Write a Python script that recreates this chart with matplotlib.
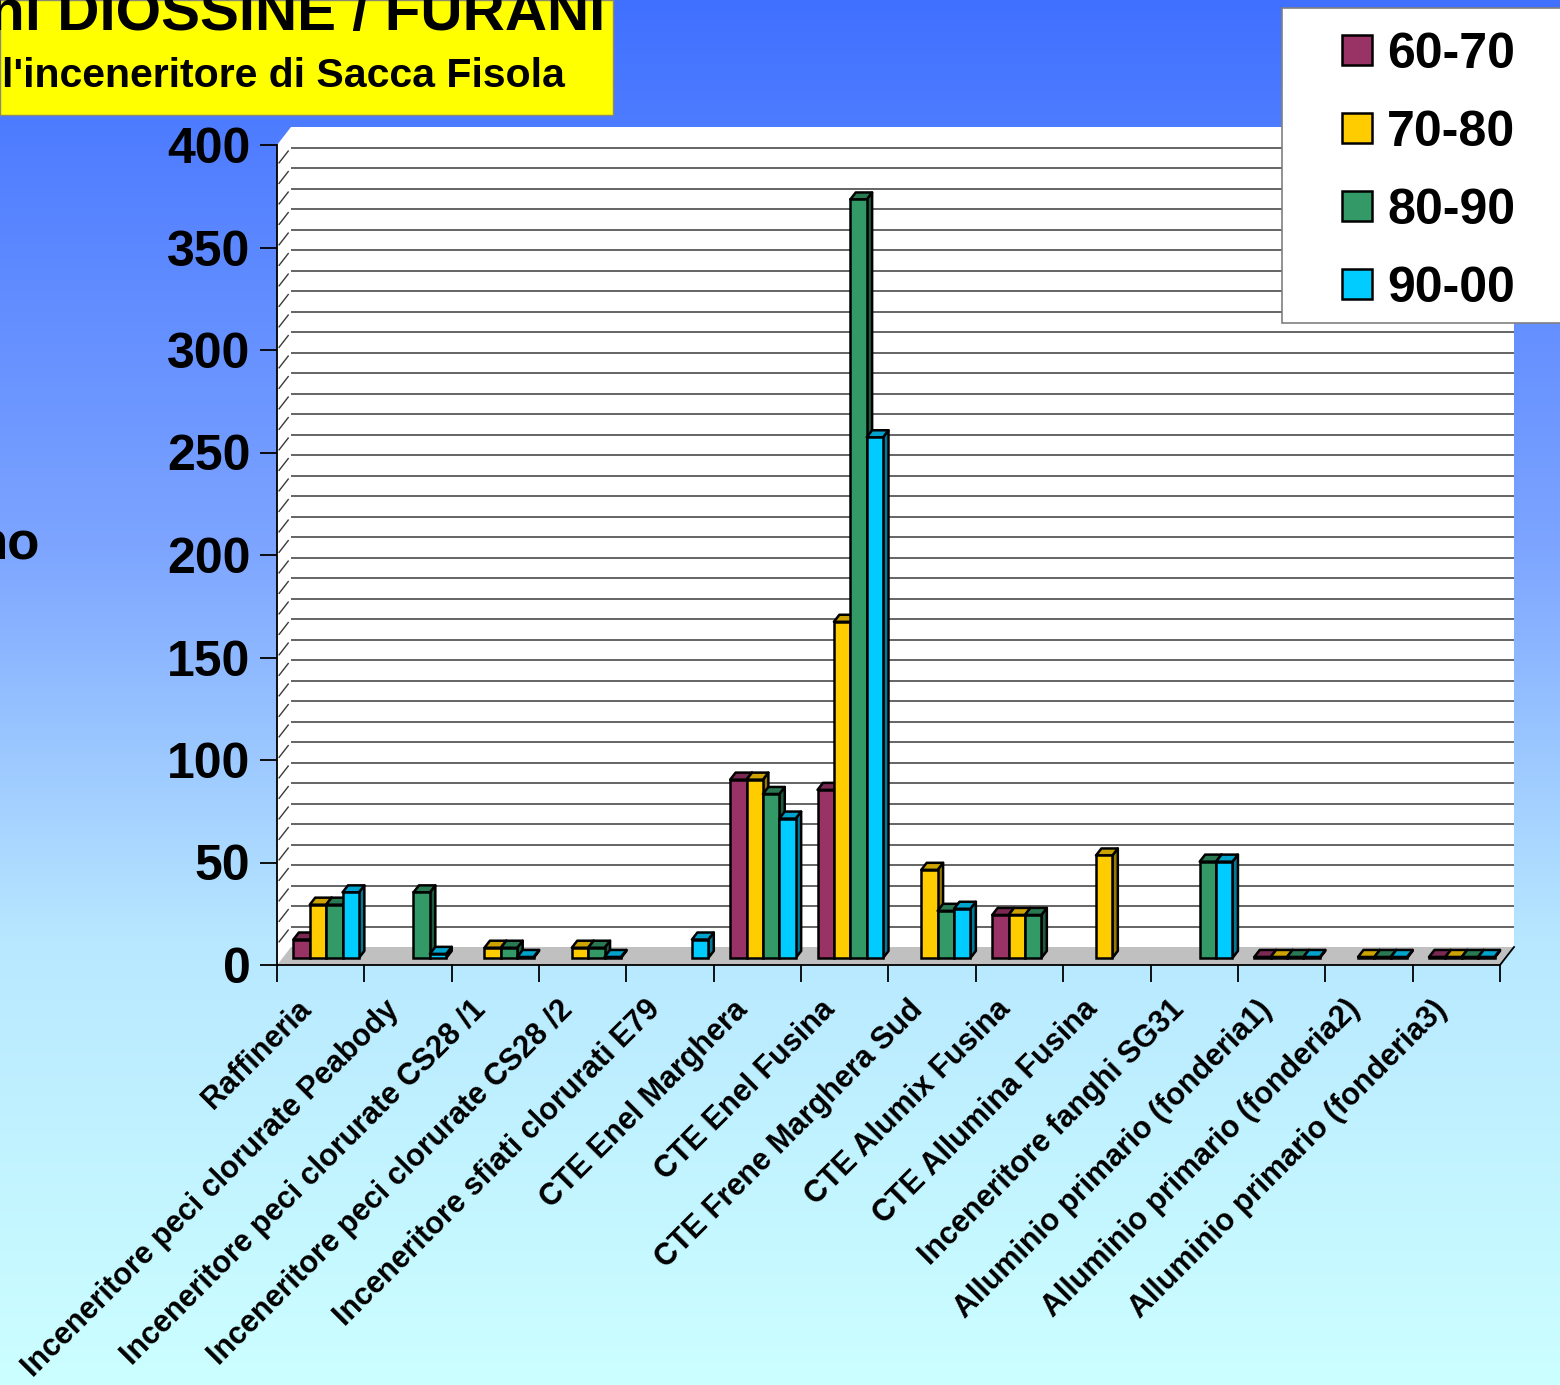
import numpy as np
import matplotlib
matplotlib.use('Agg')
import matplotlib.pyplot as plt
from matplotlib.patches import Polygon, Rectangle

plt.rcParams['font.family'] = ['Liberation Sans', 'DejaVu Sans']

# ---------------- data ----------------
categories = [
    "Raffineria",
    "Inceneritore peci clorurate Peabody",
    "Inceneritore peci clorurate CS28 /1",
    "Inceneritore peci clorurate CS28 /2",
    "Inceneritore sfiati clorurati E79",
    "CTE Enel Marghera",
    "CTE Enel Fusina",
    "CTE Frene Marghera Sud",
    "CTE Alumix Fusina",
    "CTE Allumina Fusina",
    "Inceneritore fanghi SG31",
    "Alluminio primario (fonderia1)",
    "Alluminio primario (fonderia2)",
    "Alluminio primario (fonderia3)",
]
series_names = ["60-70", "70-80", "80-90", "90-00"]
v6070 = [9, None, None, None, None, 87, 82, None, 21, None, None, 0.5, None, 0.5]
v7080 = [26, None, 5, 5, None, 87, 164, 43, 21, 50, None, 0.5, 0.5, 0.5]
v8090 = [26, 32, 5, 5, None, 80, 370, 23, 21, None, 47, 0.5, 0.5, 0.5]
v9000 = [32, 2, 0.5, 0.5, 9, 68, 254, 24, None, None, 47, 0.5, 0.5, 0.5]
yticks = [0, 50, 100, 150, 200, 250, 300, 350, 400]
title_text = "ni DIOSSINE / FURANI"
subtitle_text = "l'inceneritore di Sacca Fisola"
side_text = "no"

front_colors = ['#993366', '#FFCC00', '#339966', '#00CCFF']
top_colors = ['#7A2952', '#CCA300', '#297A52', '#00A3CC']
side_colors = ['#5C1F3D', '#997A00', '#1F5C3D', '#007A99']

W, H = 1560, 1385
fig = plt.figure(figsize=(W / 100, H / 100), dpi=100)

# ---------------- background gradient ----------------
bg = fig.add_axes([0, 0, 1, 1], zorder=-10)
stops = np.array([0.0, 0.39, 0.68, 1.0])
cols = np.array([[64, 112, 255], [124, 164, 255], [184, 232, 255], [204, 255, 255]]) / 255.0
yy = np.linspace(0, 1, H)
grad = np.stack([np.interp(yy, stops, cols[:, c]) for c in range(3)], axis=-1)
bg.imshow(grad[:, None, :], aspect='auto', extent=[0, 1, 0, 1], origin='upper')
bg.axis('off')

# ---------------- plot axes (front plane) ----------------
x0, x1, y0, y1 = 277, 1500, 965, 145
ax = fig.add_axes([x0 / W, 1 - y0 / H, (x1 - x0) / W, (y0 - y1) / H])
n = len(categories)
ymax = yticks[-1]
ax.set_xlim(0, n)
ax.set_ylim(0, ymax)
ax.patch.set_visible(False)
px_per_cat = (x1 - x0) / n
px_per_val = (y0 - y1) / ymax
DX = 14 / px_per_cat
DY = 18 / px_per_val

# floor, back wall, side wall
ax.add_patch(Polygon([(DX, DY), (n + DX, DY), (n + DX, ymax + DY), (DX, ymax + DY)],
                     closed=True, fc='white', ec='none', zorder=0.9, clip_on=False))
ax.add_patch(Polygon([(0, 0), (n, 0), (n + DX, DY), (DX, DY)],
                     closed=True, fc='#C0C0C0', ec='none', zorder=1, clip_on=False))
ax.add_patch(Polygon([(0, 0), (DX, DY), (DX, ymax + DY), (0, ymax)],
                     closed=True, fc='white', ec='none', zorder=1, clip_on=False))

for v in range(10, ymax, 10):
    ax.plot([DX, n + DX], [v + DY, v + DY], color='#3a3a3a', lw=1.1, zorder=2,
            clip_on=False, solid_capstyle='butt')
    ax.plot([0.15 * DX, 0.8 * DX], [v + 0.15 * DY, v + 0.8 * DY], color='#3a3a3a',
            lw=1.0, zorder=2, clip_on=False)

ax.plot([n, n + DX], [0, DY], color='black', lw=1.3, zorder=5, clip_on=False)

# ---------------- bars ----------------
series = [v6070, v7080, v8090, v9000]
ns = len(series)
gap = 0.25
bw = (1 - gap) / ns
t0, t1 = 0.39, 0.78
ox, oy = t0 * DX, t0 * DY
ddx, ddy = (t1 - t0) * DX, (t1 - t0) * DY
lw = 1.8
z = 3.0
for i in range(n):
    for j in range(ns):
        v = series[j][i]
        if v is None:
            continue
        xl = i + gap / 2 + j * bw + ox
        b = oy
        ax.add_patch(Polygon([(xl + bw, b), (xl + bw + ddx, b + ddy),
                              (xl + bw + ddx, b + v + ddy), (xl + bw, b + v)],
                             closed=True, fc=side_colors[j], ec='black', lw=lw,
                             joinstyle='round', zorder=z, clip_on=False))
        ax.add_patch(Polygon([(xl, b + v), (xl + bw, b + v),
                              (xl + bw + ddx, b + v + ddy), (xl + ddx, b + v + ddy)],
                             closed=True, fc=top_colors[j], ec='black', lw=lw,
                             joinstyle='round', zorder=z, clip_on=False))
        ax.bar(xl, v, width=bw, bottom=b, align='edge', color=front_colors[j],
               edgecolor='black', linewidth=lw, zorder=z + 0.001, clip_on=False)
        z += 0.01

# ---------------- axes styling ----------------
for s in ['top', 'right']:
    ax.spines[s].set_visible(False)
for s in ['left', 'bottom']:
    ax.spines[s].set_linewidth(1.3)
    ax.spines[s].set_zorder(10)
ax.set_yticks(yticks)
ax.set_yticklabels([str(t) for t in yticks], fontsize=36, fontweight='bold')
ax.tick_params(axis='y', direction='out', length=12.2, width=1.3, pad=7)
ax.set_xticks(np.arange(n + 1))
ax.set_xticklabels([])
ax.tick_params(axis='x', direction='out', length=12.2, width=1.3)

for i, name in enumerate(categories):
    ax.annotate(name, xy=(i + 0.5, 0), xycoords=('data', 'axes fraction'),
                xytext=(-14, -40), textcoords='offset pixels', rotation=45,
                ha='right', va='center', rotation_mode='anchor',
                fontsize=22, fontweight='bold', annotation_clip=False)

# ---------------- title box ----------------
fig.patches.append(Rectangle((0, 1 - 115 / H), 613 / W, 115 / H, transform=fig.transFigure,
                             fc='#FFFF00', ec='#8a8a70', lw=1.0, zorder=5))
fig.text(605 / W, 1 - 30 / H, title_text, ha='right', va='baseline', fontsize=42,
         fontweight='bold', zorder=6)
fig.text(2 / W, 1 - 87 / H, subtitle_text, ha='left', va='baseline', fontsize=29.5,
         fontweight='bold', zorder=6)
fig.text(40 / W, 1 - 560 / H, side_text, ha='right', va='baseline', fontsize=38,
         fontweight='bold', zorder=6)

# ---------------- legend ----------------
lx0, ly0, lx1, ly1 = 1282, 8, 1600, 323
fig.patches.append(Rectangle((lx0 / W, 1 - ly1 / H), (lx1 - lx0) / W, (ly1 - ly0) / H,
                             transform=fig.transFigure, fc='white', ec='#808080', lw=1.2,
                             zorder=20))
for k, name in enumerate(series_names):
    cy = 50 + 78 * k
    fig.patches.append(Rectangle((1342 / W, 1 - (cy + 15) / H), 30 / W, 30 / H,
                                 transform=fig.transFigure, fc=front_colors[k], ec='black',
                                 lw=1.8, zorder=21))
    fig.text(1387 / W, 1 - (cy + 18) / H, name, ha='left', va='baseline', fontsize=36,
             fontweight='bold', zorder=22)

fig.savefig('out.png', dpi=100)
